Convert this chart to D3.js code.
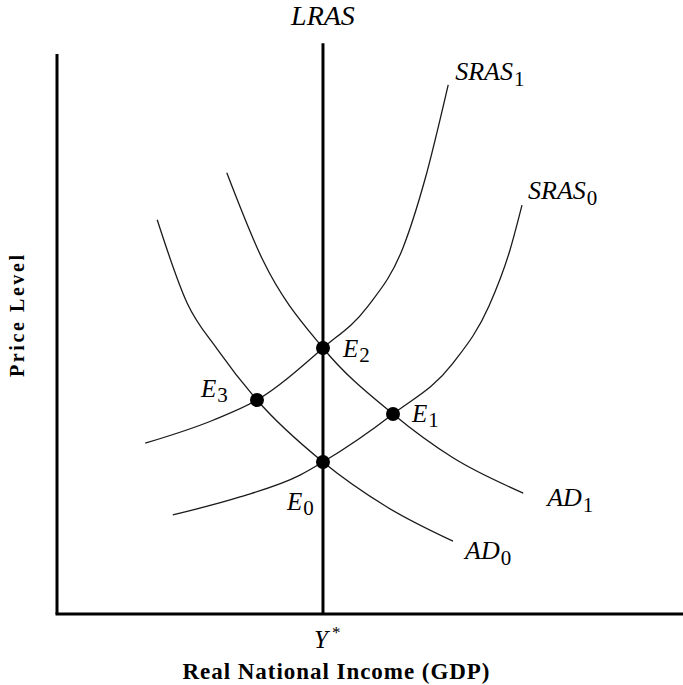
<!DOCTYPE html>
<html><head><meta charset="utf-8">
<script src="https://cdn.jsdelivr.net/npm/d3@7"></script>
<style>body{margin:0;background:#fff}svg{display:block}</style>
</head><body><svg id="c" width="683" height="685"></svg>
<script>
// ---- data (arbitrary units: real income on x, price level on y) ----
const potentialOutput = 44.33;          // Y*
const lrasTop = 101.9;
const axisTop = 100;
const sras0 = [[19.3,17.7],[30.5,20.9],[40.5,24.8],[44.33,27.14],[56.0,35.71],[66.0,44.8],[72.0,55.0],[75.5,65.0],[77.5,73.0]];
const sras1 = [[14.7,30.5],[26.0,34.6],[33.33,38.21],[44.33,47.5],[51.7,54.8],[57.7,65.5],[61.3,77.5],[65.2,94.5]];
const ad0 = [[16.7,70.4],[21.7,55.5],[26.7,47.3],[33.33,38.21],[44.33,27.14],[55.0,19.1],[66.0,13.0]];
const ad1 = [[28.3,78.8],[34.3,63.2],[44.33,47.5],[56.0,35.71],[66.0,27.9],[77.7,21.6]];
const curveNames = ["SRAS","SRAS","AD","AD"];
const curveSubs = ["0","1","0","1"];
const eqNames = ["E","E","E","E"];
const eqSubs = ["0","1","2","3"];
const eqX = [44.33, 56.0, 44.33, 33.33];
const eqY = [27.14, 35.71, 47.5, 38.21];
const xTitle = "Real National Income (GDP)";
const yTitle = "Price Level";
const lrasLabel = "LRAS";
const yStarLabel = "Y";

// ---- layout ----
const W = 683, H = 685;
const x = d3.scaleLinear().domain([0,100]).range([57,657]);
const y = d3.scaleLinear().domain([0,100]).range([614,54]);
const svg = d3.select("#c");
svg.append("rect").attr("width",W).attr("height",H).attr("fill","#fff");
const serif = "Liberation Serif";

// curves
const line = d3.line().x(d=>x(d[0])).y(d=>y(d[1])).curve(d3.curveMonotoneX);
const curves = [sras0, sras1, ad0, ad1];
const curveLabelAt = [
  {dx:6, dy:-6},   // SRAS0
  {dx:7, dy:-5},   // SRAS1
  {dx:12, dy:18},  // AD0
  {dx:24, dy:13}   // AD1
];
curves.forEach((c,i)=>{
  svg.append("path").attr("d",line(c)).attr("fill","none")
    .attr("stroke","#1a1a1a").attr("stroke-width",1.3);
  const p = c[c.length-1];
  const t = svg.append("text").attr("x",x(p[0])+curveLabelAt[i].dx).attr("y",y(p[1])+curveLabelAt[i].dy)
    .style("font-family",serif).style("font-style","italic").style("font-size","26px").attr("fill","#000");
  t.append("tspan").text(curveNames[i]);
  t.append("tspan").attr("dx",1).attr("dy",6).style("font-size","21px").style("font-style","normal").text(curveSubs[i]);
});

// axes
svg.append("line").attr("x1",x(0)).attr("x2",x(0)).attr("y1",y(0)).attr("y2",y(axisTop))
  .attr("stroke","#000").attr("stroke-width",3);
svg.append("line").attr("x1",x(0)-1.5).attr("x2",W).attr("y1",y(0)).attr("y2",y(0))
  .attr("stroke","#000").attr("stroke-width",3);
// LRAS
svg.append("line").attr("x1",x(potentialOutput)).attr("x2",x(potentialOutput)).attr("y1",y(0)).attr("y2",y(lrasTop))
  .attr("stroke","#000").attr("stroke-width",3);
svg.append("text").attr("x",x(potentialOutput)).attr("y",25).attr("text-anchor","middle")
  .style("font-family",serif).style("font-style","italic").style("font-size","28px").text(lrasLabel);

// equilibrium dots and labels
const eqLabelAt = [{dx:-36,dy:48},{dx:19,dy:8},{dx:20,dy:9},{dx:-56,dy:-3}];
eqX.forEach((ex,i)=>{
  svg.append("circle").attr("cx",x(ex)).attr("cy",y(eqY[i])).attr("r",7).attr("fill","#000");
  const t = svg.append("text").attr("x",x(ex)+eqLabelAt[i].dx).attr("y",y(eqY[i])+eqLabelAt[i].dy)
    .style("font-family",serif).style("font-style","italic").style("font-size","25px");
  t.append("tspan").text(eqNames[i]);
  t.append("tspan").attr("dx",1).attr("dy",5).style("font-size","21px").style("font-style","normal").text(eqSubs[i]);
});

// Y* label
const ys = svg.append("text").attr("x",x(potentialOutput)-9).attr("y",648)
  .style("font-family",serif).style("font-style","italic").style("font-size","25px");
ys.append("tspan").text(yStarLabel);
ys.append("tspan").attr("dx",4).attr("dy",-10).style("font-size","17px").style("font-style","normal").text("*");

// axis titles
svg.append("text").attr("x",336).attr("y",679).attr("text-anchor","middle")
  .style("font-family",serif).style("font-weight","bold").style("font-size","23px")
  .attr("textLength",307).attr("lengthAdjust","spacing").text(xTitle);
svg.append("text").attr("transform","translate(24,316) rotate(-90)").attr("text-anchor","middle")
  .style("font-family",serif).style("font-weight","bold").style("font-size","20px")
  .attr("textLength",122).attr("lengthAdjust","spacing").text(yTitle);
</script></body></html>
